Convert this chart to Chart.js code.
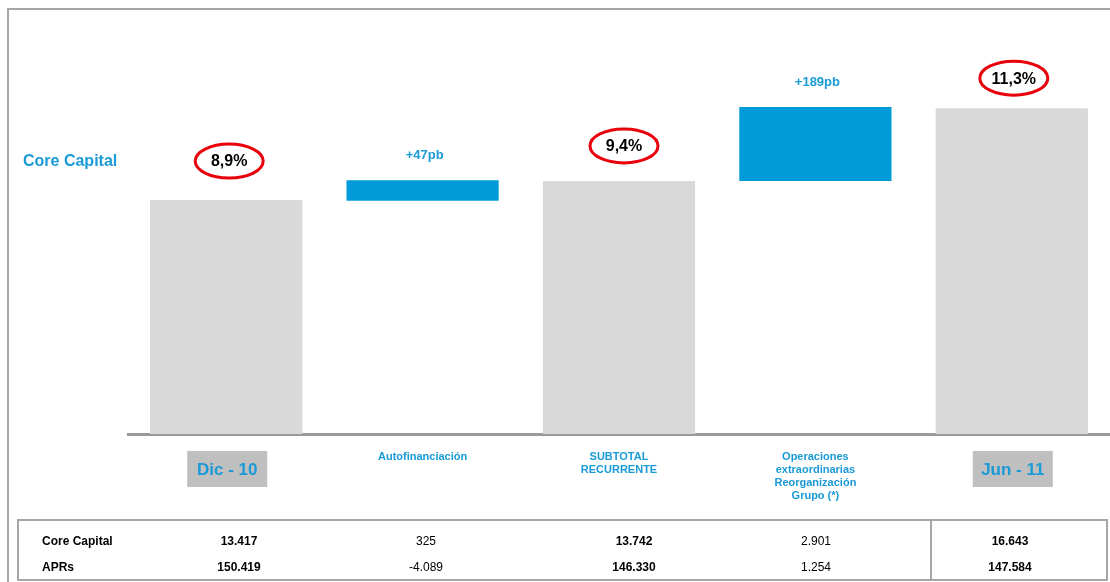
<!DOCTYPE html>
<html>
<head>
<meta charset="utf-8">
<script src="https://cdn.jsdelivr.net/npm/chart.js@4.4.1/dist/chart.umd.min.js"></script>
<style>
    html, body { margin: 0; padding: 0; background: #fff; }
    body { width: 1110px; height: 582px; position: relative; overflow: hidden; font-family: "Liberation Sans", Arial, sans-serif; }
    #frame { position: absolute; left: 7px; top: 8px; width: 1120px; height: 600px; border-left: 2px solid #a6a6a6; border-top: 2px solid #a6a6a6; }
    #chart { position: absolute; left: 0; top: 0; }
    #tbl { position: absolute; left: 17px; top: 519px; width: 1091px; height: 62px; box-sizing: border-box; border: 2px solid #a6a6a6; }
    #tbl .div { position: absolute; left: 911px; top: -2px; width: 2px; height: 62px; background: #a6a6a6; }
    #tbl span { position: absolute; font-size: 12px; color: #000; transform: translate(-50%, -50%); white-space: nowrap; }
    #tbl span.lbl { transform: translate(0, -50%); font-weight: bold; }
    #tbl span.b { font-weight: bold; }
</style>
</head>
<body>
<div id="frame"></div>
<canvas id="chart" width="1110" height="582"></canvas>
<div id="tbl"><div class="div"></div></div>
<script>
// Datos del gráfico
const categories = ["Dic - 10", "Autofinanciación", "SUBTOTAL RECURRENTE", "Operaciones extraordinarias Reorganización Grupo (*)", "Jun - 11"];
const categoryLines = [["Dic - 10"], ["Autofinanciación"], ["SUBTOTAL", "RECURRENTE"], ["Operaciones", "extraordinarias", "Reorganización", "Grupo (*)"], ["Jun - 11"]];
const totals = [8.9, null, 9.4, null, 11.3];              // barras grises (Core Capital %)
const steps = [null, [8.88, 9.42], null, [9.40, 11.33], null]; // barras azules (variación)
const totalLabels = ["8,9%", null, "9,4%", null, "11,3%"];
const stepLabels = [null, "+47pb", null, "+189pb", null];
const rowNames = ["Core Capital", "APRs"];
const coreCapitalRow = ["13.417", "325", "13.742", "2.901", "16.643"];
const aprsRow = ["150.419", "-4.089", "146.330", "1.254", "147.584"];

const BLUE = "#009bd8";
const TEXT_BLUE = "#1a9ad6";
const GREY = "#d9d9d9";
const FONT = '"Liberation Sans", Arial, sans-serif';

// Ajustes visuales (no son datos)
const ringLift = [39, 0, 35, 0, 30];
const ringShift = [3, 0, 5, 0, 2];

// Tabla inferior
function renderTable() {
    const tbl = document.getElementById("tbl");
    const colX = [220, 407, 615, 797, 991];
    const rowY = [20, 46];
    [coreCapitalRow, aprsRow].forEach((row, r) => {
        const name = document.createElement("span");
        name.className = "lbl";
        name.textContent = rowNames[r];
        name.style.left = "23px";
        name.style.top = rowY[r] + "px";
        tbl.appendChild(name);
        row.forEach((val, c) => {
            const s = document.createElement("span");
            s.textContent = val;
            if (totals[c] !== null) s.className = "b";
            s.style.left = colX[c] + "px";
            s.style.top = rowY[r] + "px";
            tbl.appendChild(s);
        });
    });
}

// Etiquetas, óvalos y textos de categorías
const annotate = {
    id: "annotate",
    afterDatasetsDraw(chart) {
        const ctx = chart.ctx;
        const xScale = chart.scales.x;
        const grey = chart.getDatasetMeta(0).data;
        const blue = chart.getDatasetMeta(1).data;
        ctx.save();
        ctx.textBaseline = "middle";

        ctx.textAlign = "left";
        ctx.fillStyle = TEXT_BLUE;
        ctx.font = "bold 16px " + FONT;
        ctx.fillText("Core Capital", 23, 162);

        ctx.textAlign = "center";
        totalLabels.forEach((t, i) => {
            if (!t) return;
            const bar = grey[i];
            const cx = bar.x + ringShift[i];
            const cy = Math.min(bar.y, bar.base) - ringLift[i];
            ctx.beginPath();
            ctx.ellipse(cx, cy, 34, 17, 0, 0, Math.PI * 2);
            ctx.strokeStyle = "#e8000b";
            ctx.lineWidth = 3;
            ctx.stroke();
            ctx.fillStyle = "#000";
            ctx.font = "bold 16px " + FONT;
            ctx.fillText(t, cx, cy + 1);
        });

        stepLabels.forEach((t, i) => {
            if (!t) return;
            const bar = blue[i];
            ctx.fillStyle = TEXT_BLUE;
            ctx.font = "bold 13px " + FONT;
            ctx.fillText(t, bar.x + 2, Math.min(bar.y, bar.base) - 25);
        });

        categoryLines.forEach((lines, i) => {
            const x = xScale.getPixelForValue(i);
            if (totals[i] !== null && i !== 2) {
                ctx.fillStyle = "#bfbfbf";
                ctx.fillRect(x - 39, 451, 80, 36);
                ctx.fillStyle = TEXT_BLUE;
                ctx.font = "bold 17px " + FONT;
                ctx.fillText(lines[0], x + 1, 470);
            } else {
                ctx.fillStyle = TEXT_BLUE;
                ctx.font = "bold 11px " + FONT;
                lines.forEach((ln, k) => ctx.fillText(ln, x, 457 + k * 13));
            }
        });
        ctx.restore();
    }
};

new Chart(document.getElementById("chart"), {
    type: "bar",
    data: {
        labels: categories,
        datasets: [
            { data: totals, backgroundColor: GREY, grouped: false, categoryPercentage: 1, barPercentage: 0.775 },
            { data: steps, backgroundColor: BLUE, grouped: false, categoryPercentage: 1, barPercentage: 0.775 }
        ]
    },
    options: {
        responsive: false,
        animation: false,
        layout: { padding: { left: 128, right: 0, top: 32, bottom: 140 } },
        plugins: { legend: { display: false }, tooltip: { enabled: false } },
        scales: {
            x: {
                ticks: { display: false },
                grid: { display: false },
                border: { display: true, color: "#9a9a9a", width: 3 }
            },
            y: {
                display: false,
                min: 2.79,
                max: 13.29
            }
        }
    },
    plugins: [annotate]
});

renderTable();
</script>
</body>
</html>
